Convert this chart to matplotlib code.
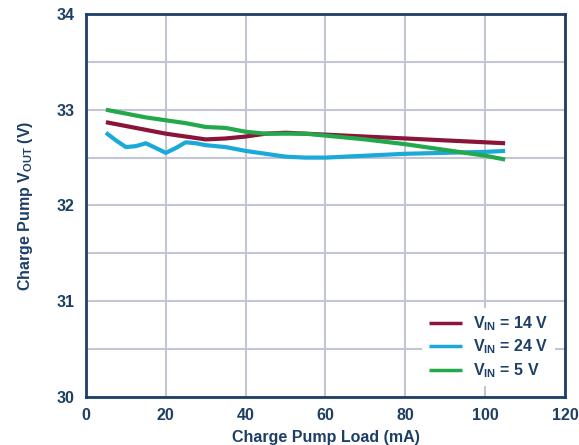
import matplotlib
matplotlib.use("Agg")
import matplotlib.pyplot as plt

# data
load_14v = [5, 10, 15, 20, 25, 30, 35, 40, 45, 50, 55, 60, 70, 80, 90, 100, 105]
vout_14v = [32.87, 32.83, 32.79, 32.75, 32.72, 32.69, 32.70, 32.72, 32.75, 32.76,
            32.75, 32.74, 32.72, 32.70, 32.68, 32.66, 32.65]

load_24v = [5, 7.5, 10, 12.5, 15, 17.5, 20, 22.5, 25, 27.5, 30, 35, 40, 45, 50,
            55, 60, 70, 80, 90, 100, 105]
vout_24v = [32.76, 32.68, 32.61, 32.62, 32.65, 32.60, 32.55, 32.60, 32.66, 32.65,
            32.63, 32.61, 32.57, 32.54, 32.51, 32.50, 32.50, 32.52, 32.54, 32.55,
            32.56, 32.57]

load_5v = [5, 10, 15, 20, 25, 30, 35, 40, 45, 50, 55, 60, 70, 80, 90, 100, 105]
vout_5v = [33.00, 32.96, 32.92, 32.89, 32.86, 32.82, 32.81, 32.77, 32.75, 32.75,
           32.75, 32.73, 32.69, 32.64, 32.58, 32.52, 32.48]

labels = [r'V$_\mathbf{IN}$ = 14 V', r'V$_\mathbf{IN}$ = 24 V', r'V$_\mathbf{IN}$ = 5 V']
colors = ['#8A1538', '#1BA9D8', '#24A84C']

navy = '#1D3F66'
plt.rcParams['font.family'] = 'Liberation Sans'
plt.rcParams['font.weight'] = 'bold'
plt.rcParams['axes.labelweight'] = 'bold'
plt.rcParams['mathtext.fontset'] = 'custom'
plt.rcParams['mathtext.bf'] = 'Liberation Sans:bold'
plt.rcParams['mathtext.rm'] = 'Liberation Sans:bold'

fig = plt.figure(figsize=(5.79, 4.45), dpi=100)
ax = fig.add_axes([0.1485, 0.108, 0.8273, 0.8605])

series = [(load_14v, vout_14v), (load_24v, vout_24v), (load_5v, vout_5v)]
for (x, y), c, lab in zip(series, colors, labels):
    ax.plot(x, y, color=c, lw=3, label=lab, solid_capstyle='butt')

ax.set_xlim(0, 120)
ax.set_ylim(30, 34)
ax.set_xticks(range(0, 121, 20))
ax.set_yticks(range(30, 35))
ax.set_yticks([30.5, 31.5, 32.5, 33.5], minor=True)
ax.grid(True, which='both', color='#C2C5D3', lw=1.5)
ax.set_axisbelow(True)
ax.tick_params(which='both', length=0, labelsize=11.5, labelcolor=navy, pad=8)
for s in ax.spines.values():
    s.set_color(navy)
    s.set_linewidth(2)

ax.set_xlabel('Charge Pump Load (mA)', fontsize=11.5, color=navy, labelpad=5)
ax.set_ylabel(r'Charge Pump V$_\mathbf{OUT}$ (V)', fontsize=11.5, color=navy, labelpad=16)

leg = ax.legend(loc='lower right', frameon=True, fontsize=11.5, handlelength=2.1,
                borderaxespad=0.6, labelspacing=0.3, handletextpad=0.7,
                bbox_to_anchor=(1.0, 0.003))
leg.get_frame().set_facecolor('white')
leg.get_frame().set_edgecolor('none')
leg.get_frame().set_alpha(1)
for line in leg.get_lines():
    line.set_linewidth(2.5)
for t in leg.get_texts():
    t.set_color(navy)

fig.savefig('out.png', dpi=100)
